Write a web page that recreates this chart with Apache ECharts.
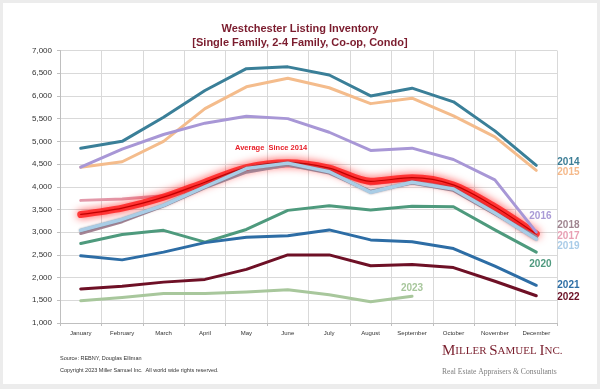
<!DOCTYPE html>
<html><head><meta charset="utf-8">
<script src="https://cdn.jsdelivr.net/npm/echarts/dist/echarts.min.js"></script>
<style>html,body{margin:0;padding:0;background:#ececec}#c{width:600px;height:389px}</style>
</head><body><div id="c"></div>
<script>
const months = ['January','February','March','April','May','June','July','August','September','October','November','December'];
const y2014 = [4850, 5000, 5530, 6120, 6600, 6640, 6460, 6000, 6170, 5870, 5230, 4470];
const y2015 = [4430, 4550, 5000, 5720, 6200, 6390, 6180, 5830, 5950, 5560, 5100, 4360];
const y2016 = [4430, 4830, 5150, 5400, 5550, 5500, 5200, 4800, 4850, 4600, 4150, 3000];
const y2017 = [3700, 3730, 3800, 4050, 4350, 4460, 4360, 4060, 4160, 4000, 3500, 2920];
const y2018 = [2970, 3230, 3580, 3980, 4320, 4480, 4300, 3900, 4080, 3920, 3400, 2900];
const y2019 = [3040, 3280, 3590, 4000, 4400, 4520, 4330, 3880, 4100, 3950, 3420, 2850];
const y2020 = [2750, 2950, 3040, 2780, 3060, 3480, 3580, 3490, 3570, 3560, 3050, 2560];
const y2021 = [2480, 2390, 2560, 2770, 2890, 2920, 3050, 2830, 2790, 2640, 2250, 1830];
const y2022 = [1750, 1810, 1900, 1960, 2180, 2500, 2500, 2260, 2290, 2220, 1920, 1600];
const y2023 = [1490, 1560, 1650, 1650, 1680, 1730, 1620, 1470, 1590];
const avg   = [3390, 3530, 3770, 4100, 4420, 4530, 4410, 4120, 4200, 4040, 3560, 2960];
const yTicks = [1000, 1500, 2000, 2500, 3000, 3500, 4000, 4500, 5000, 5500, 6000, 6500, 7000];

const FONT = 'Liberation Sans, Arial, sans-serif';
function withLabel(values, text, color, pos, dx, dy, align) {
  return values.map((v, i) => i !== values.length - 1 ? v : {
    value: v,
    label: {show: true, formatter: text, position: pos, distance: 0, offset: [dx, dy],
      color: color, fontWeight: 'bold', fontSize: 10, fontFamily: FONT, align: align || 'left'}
  });
}
function line(name, data, color, width, z, extra) {
  return Object.assign({
    name: name, type: 'line', data: data, symbol: 'circle', symbolSize: 0, showSymbol: true,
    z: z, silent: true, animation: false,
    lineStyle: {color: color, width: width, cap: 'round', join: 'round'},
    itemStyle: {color: color}
  }, extra || {});
}

const chart = echarts.init(document.getElementById('c'), null, {renderer: 'canvas'});
chart.setOption({
  backgroundColor: '#ececec',
  animation: false,
  title: {
    text: 'Westchester Listing Inventory\n[Single Family, 2-4 Family, Co-op, Condo]',
    left: 'center', top: 17,
    textStyle: {color: '#7b1c2e', fontSize: 11, fontWeight: 'bold', fontFamily: FONT, lineHeight: 14}
  },
  grid: {left: 60, right: 43, top: 50.5, bottom: 66},
  xAxis: {
    type: 'category', data: months, boundaryGap: true,
    axisLine: {lineStyle: {color: '#bfbfbf'}},
    axisTick: {show: true, length: 3, lineStyle: {color: '#bfbfbf'}},
    axisLabel: {fontSize: 6, color: '#333', margin: 7, fontFamily: FONT, interval: 0},
    splitLine: {show: true, lineStyle: {color: '#d9d9d9', width: 1}}
  },
  yAxis: {
    type: 'value', min: yTicks[0], max: yTicks[yTicks.length - 1], interval: 500,
    axisLine: {show: true, lineStyle: {color: '#bfbfbf'}},
    axisTick: {show: true, length: 3, lineStyle: {color: '#bfbfbf'}},
    axisLabel: {fontSize: 8, color: '#333', margin: 8, fontFamily: FONT,
      formatter: v => v.toLocaleString('en-US')},
    splitLine: {lineStyle: {color: '#d9d9d9', width: 1}}
  },
  graphic: [
    {type: 'rect', z: -100, silent: true, shape: {x: 3, y: 3, width: 594, height: 381}, style: {fill: '#ffffff'}},
    {type: 'text', left: 60, top: 355, silent: true,
      style: {text: 'Source: REBNY, Douglas Elliman', fontSize: 5.5, fill: '#333', fontFamily: FONT}},
    {type: 'text', left: 60, top: 367, silent: true,
      style: {text: 'Copyright 2023 Miller Samuel Inc.  All world wide rights reserved.', fontSize: 5.5, fill: '#333', fontFamily: FONT}},
    {type: 'text', left: 442, top: 344, silent: true,
      style: {text: '{b|M}{s|ILLER }{b|S}{s|AMUEL }{b|I}{s|NC.}',
        rich: {b: {fontSize: 15, fontFamily: 'Liberation Serif, serif', fill: '#7a1f2e'},
               s: {fontSize: 11, fontFamily: 'Liberation Serif, serif', fill: '#7a1f2e'}}}},
    {type: 'text', left: 442, top: 368, silent: true,
      style: {text: 'Real Estate Appraisers & Consultants', fontSize: 7.6, fill: '#7f7f7f', fontFamily: 'Liberation Serif, serif'}},
    {type: 'text', left: 235, top: 144, silent: true,
      style: {text: 'Average  Since 2014', fontSize: 7.5, fontWeight: 'bold', fill: '#e8202a', fontFamily: FONT}}
  ],
  series: [
    line('2014', withLabel(y2014, '2014', '#3c7e96', 'right', 21, -3), '#3a7f98', 3, 10),
    line('2015', withLabel(y2015, '2015', '#f5b98a', 'right', 21, 2), '#f4bc8c', 3, 9),
    line('2017', withLabel(y2017, '2017', '#e8a0b4', 'right', 21, 0), '#e29aab', 3, 11),
    line('Average', avg, '#ff1010', 7, 12, {smooth: 0.3,
      lineStyle: {color: 'rgba(255,25,25,0.8)', width: 7, shadowColor: 'rgba(255,0,0,0.9)', shadowBlur: 8, cap: 'round'}}),
    line('Average line', avg, '#c00000', 1.2, 13, {smooth: 0.3}),
    line('2018', withLabel(y2018, '2018', '#a08590', 'right', 21, -11), '#a78595', 3, 14),
    line('2019', withLabel(y2019, '2019', '#a9cce8', 'right', 21, 7), '#a9cde6', 3.5, 15,
      {lineStyle: {color: '#a9cde6', width: 3.5, shadowColor: 'rgba(90,100,120,0.7)', shadowBlur: 2, cap: 'round', join: 'round'}}),
    line('2016', withLabel(y2016, '2016', '#a99ad6', 'right', -7, -16), '#a897d6', 3, 16),
    line('2020', withLabel(y2020, '2020', '#4f9a7f', 'right', -7, 12), '#4e9a7d', 3, 17),
    line('2021', withLabel(y2021, '2021', '#2e6fa5', 'right', 21, 0), '#2d6da5', 3, 18),
    line('2022', withLabel(y2022, '2022', '#6b1025', 'right', 21, 1), '#6e1026', 3, 19),
    line('2023', withLabel(y2023, '2023', '#a8c79c', 'top', 0, -3, 'center'), '#a8c79c', 3, 20)
  ]
});
</script></body></html>
